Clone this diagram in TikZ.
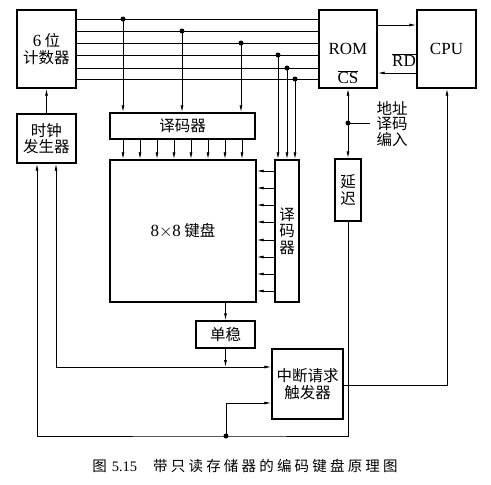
\documentclass[tikz,border=0pt]{standalone}
\usepackage{fontspec}
\setmainfont{Liberation Serif}
\newfontfamily\cjk{Noto Sans CJK SC}
\usetikzlibrary{arrows.meta,positioning,calc}

\begin{document}
\begin{tikzpicture}[
  x=1pt, y=-1pt, line width=0.8pt,
  block/.style={draw, line width=1.4pt, inner sep=0pt, align=center,
    font=\fontsize{15.5}{16.5}\selectfont\cjk},
  latin/.style={font=\fontsize{17}{19}\selectfont},
  arr/.style={-{Latex[length=7pt,width=3pt]}},
  dot/.style={circle, fill, inner sep=0pt, minimum size=5pt}
]
  \useasboundingbox (0,0) rectangle (491,485);

  % Counter, ROM and CPU
  \node[block, minimum width=59pt, minimum height=78pt] (counter) at (46.5,49) {{\rmfamily\fontsize{17}{17}\selectfont 6} 位\\计数器};
  \node[block, latin, minimum width=58pt, minimum height=78pt] (rom) at (348,49) {ROM};
  \node[latin] (cslbl) at (348,77) {$\overline{\mbox{CS}}$};
  \node[block, latin, minimum width=59pt, minimum height=78pt] (cpu) at (446.5,49) {CPU};
  \node[latin] (rdlbl) at (404,60) {$\overline{\mbox{RD}}$};

  % Clock and decoders
  \node[block, minimum width=59pt, minimum height=49pt] (clock) at (46.5,138.5) {时钟\\发生器};
  \node[block, minimum width=145pt, minimum height=26pt] (rowdec) at (182.5,126) {译码器};
  \node[block, minimum width=146pt, minimum height=142pt] (keys) at (183,231) {{\rmfamily\fontsize{17}{17}\selectfont 8$\times$8} 键盘};
  \node[block, minimum width=24pt, minimum height=142pt] (coldec) at (287,231) {译\\码\\器};

  % Delay, monostable and interrupt trigger
  \node[block, minimum width=26pt, minimum height=62pt] (delay) at (348,190) {延\\迟};
  \node[block, minimum width=59pt, minimum height=27pt] (mono) at (225.5,334.5) {单稳};
  \node[block, minimum width=71pt, minimum height=70pt] (irq) at (307.5,384) {中断请求\\触发器};

  % Address lines
  \foreach \y in {19,31,43,55,68,79}
    \draw (counter.east |- 0,\y) -- (rom.west |- 0,\y);
  \node[dot] (a1) at (123,19) {};
  \node[dot] (a2) at (182,31) {};
  \node[dot] (a3) at (241,43) {};
  \node[dot] (a4) at (278,55) {};
  \node[dot] (a5) at (287,68) {};
  \node[dot] (a6) at (295,79) {};
  \foreach \n in {a1,a2,a3}
    \draw[arr] (\n.center) -- (\n.center |- rowdec.north);
  \foreach \n in {a4,a5,a6}
    \draw[arr] (\n.center) -- (\n.center |- coldec.north);

  % Decoder outputs
  \foreach \x in {123,140,...,242}
    \draw[arr] (rowdec.south -| \x,0) -- (keys.north -| \x,0);
  \foreach \y in {171,188,205,222,240,257,274,291}
    \draw[arr] (coldec.west |- 0,\y) -- (keys.east |- 0,\y);

  % ROM and CPU
  \draw[arr] (rom.east |- 0,25) -- (cpu.west |- 0,25);
  \draw[arr] (cpu.west |- 0,73) -- (rom.east |- 0,73);

  % Chip select
  \node[dot] (csdot) at (348,123) {};
  \coordinate (cstail) at (370,123);
  \node[font=\fontsize{15.5}{15.5}\selectfont\cjk, align=left] (addrlbl) at (392,124) {地址\\译码\\编入};
  \draw[arr] (csdot.center) -- (rom.south);
  \draw[arr] (csdot.center) -- (delay.north);
  \draw (csdot.center) -- (cstail);

  % Feedback paths
  \node[dot] (fbdot) at (226,436) {};
  \coordinate (j1) at (56,367);
  \draw[arr] (clock.north) -- (counter.south);
  \draw[arr] (delay.south) |- (fbdot.center) -| (37,0 |- clock.south);
  \draw[arr] (fbdot.center) |- (irq.west |- 0,403);
  \draw[arr] (keys.south -| mono.north) -- (mono.north);
  \draw[arr] (mono.south) -- (mono.south |- j1);
  \draw[arr] (j1) -- (irq.west |- j1);
  \draw[arr] (j1) -- (j1 |- clock.south);
  \draw[arr] (irq.east |- 0,385) -| (447,0 |- cpu.south);

  % Caption
  \node[font=\fontsize{14.5}{16}\selectfont\cjk] (caption) at (245,466)
    {图\hspace{5pt}{\rmfamily 5.15}\hspace{16pt}{\addfontfeature{LetterSpace=22}带只读存储器的编码键盘原理图}};
\end{tikzpicture}
\end{document}
